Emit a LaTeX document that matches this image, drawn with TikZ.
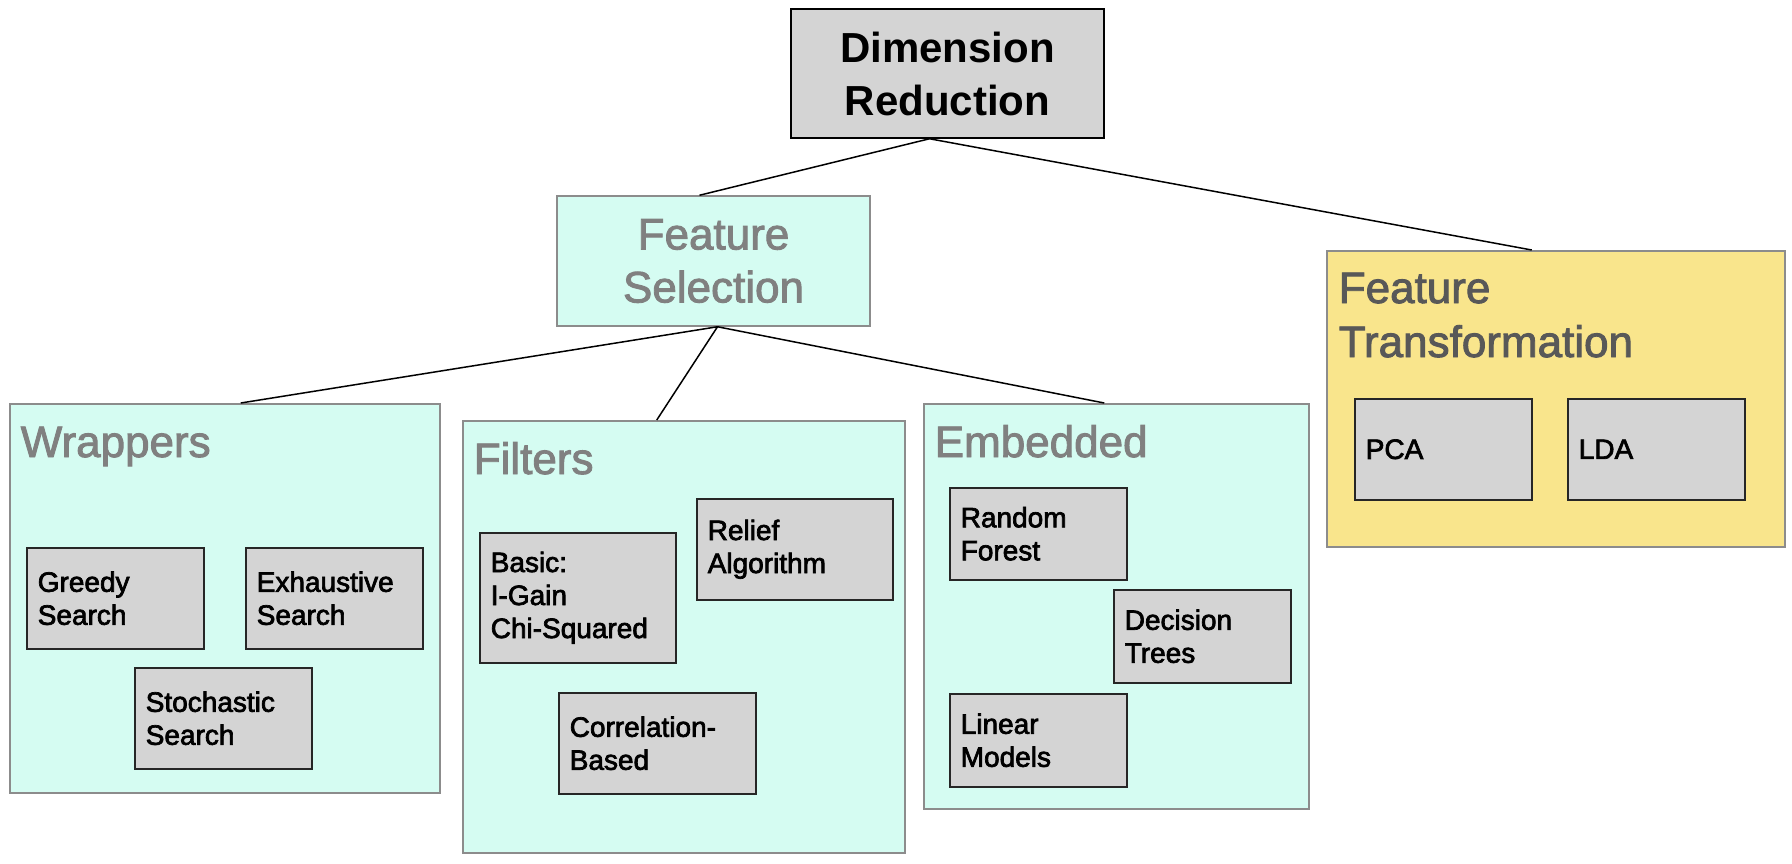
\documentclass[tikz,border=0pt]{standalone}
\usepackage{fontspec}
\setmainfont{Liberation Sans}
\newfontfamily\medfont[FakeBold=2.5]{Liberation Sans}
\newfontfamily\headfont[FakeBold=2]{Liberation Sans}
\definecolor{mint}{RGB}{213,252,242}
\definecolor{sand}{RGB}{249,229,140}
\definecolor{leafgray}{RGB}{212,212,212}
\definecolor{titlegray}{RGB}{128,128,128}
\definecolor{darkgray}{RGB}{88,88,88}
\begin{document}
\begin{tikzpicture}[x=.5pt, y=-.5pt, line width=.75pt,
    group/.style={draw=gray!90, fill=mint, anchor=north west, inner sep=0pt},
    head/.style={anchor=base west, inner sep=0pt, text=titlegray,
      font=\headfont\fontsize{22pt}{27pt}\selectfont, align=left},
    leaf/.style={draw=black!85, fill=leafgray, anchor=north west, inner xsep=5.5pt,
      minimum width=88.5pt, minimum height=50.5pt, text width=77.5pt, align=left,
      font=\medfont\fontsize{14pt}{16.5pt}\selectfont}]
    \useasboundingbox (0, 0) rectangle (1792, 863);
    % top of the tree
    \node [draw=black, fill=leafgray, minimum width=156.5pt, minimum height=64.5pt,
      align=center, font=\fontsize{21pt}{26.5pt}\selectfont\bfseries] (dr)
      at (947.5, 73.5) {Dimension\\Reduction};
    \node [draw=gray!90, fill=mint, minimum width=156.5pt, minimum height=65pt,
      align=center, text=titlegray, font=\headfont\fontsize{22pt}{26.5pt}\selectfont] (fs)
      at (713.5, 261) {Feature\\Selection};
    % groups
    \node [group, minimum width=215pt, minimum height=194.5pt] (wrap) at (9, 403) {};
    \node [group, minimum width=221pt, minimum height=216pt] (filt) at (462, 420) {};
    \node [group, minimum width=192.5pt, minimum height=202.5pt] (embd) at (923, 403) {};
    \node [group, fill=sand, draw=gray!110!black, minimum width=229pt, minimum height=148pt]
      (ft) at (1326, 250) {};
    \foreach \g/\t in {wrap/Wrappers, filt/Filters, embd/Embedded}
    \node [head] at ([shift={(11, 54)}]\g.north west) {\t};
    \node [head, text=darkgray] at ([shift={(12, 107)}]ft.north west) {Feature\\Transformation};
    % leaves
    \node [leaf] (greedy) at (26, 547) {Greedy\\Search};
    \node [leaf] (exhaust) at (245, 547) {Exhaustive\\Search};
    \node [leaf] (stoch) at (134, 667) {Stochastic\\Search};
    \node [leaf, minimum width=98pt, minimum height=65pt, text width=87pt] (basic)
      at (479, 532) {Basic:\\I-Gain\\Chi-Squared};
    \node [leaf, minimum width=98pt, text width=87pt] (relief) at (696, 498) {Relief\\Algorithm};
    \node [leaf, minimum width=98.5pt, text width=87.5pt] (corr) at (558, 692) {Correlation-\\Based};
    \node [leaf, minimum height=46pt] (forest) at (949, 487) {Random\\Forest};
    \node [leaf, minimum height=46.5pt] (trees) at (1113, 589) {Decision\\Trees};
    \node [leaf, minimum height=46.5pt] (linear) at (949, 693) {Linear\\Models};
    \node [leaf] (pca) at (1354, 398) {PCA};
    \node [leaf] (lda) at (1567, 398) {LDA};
    % connectors
    \draw ([xshift=-9pt]dr.south) -- ([xshift=-7pt]fs.north);
    \draw ([xshift=-9pt]dr.south) -- ([xshift=-12pt]ft.north);
    \draw ([xshift=2pt]fs.south) -- ([xshift=8pt]wrap.north)
      ([xshift=2pt]fs.south) -- ([xshift=-13.5pt]filt.north)
      ([xshift=2pt]fs.south) -- ([xshift=-6pt]embd.north);
\end{tikzpicture}
\end{document}
